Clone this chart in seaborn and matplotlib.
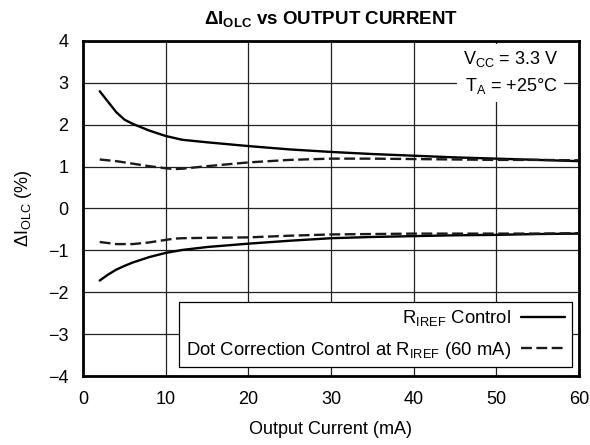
import matplotlib
matplotlib.use("Agg")
import matplotlib.pyplot as plt
import seaborn as sns
import pandas as pd
from matplotlib.lines import Line2D

# Data
iref_x = [2, 3, 4, 5, 6, 8, 10, 12, 15, 20, 25, 30, 35, 40, 45, 50, 55, 60]
iref_upper = [2.80, 2.55, 2.30, 2.12, 2.02, 1.86, 1.73, 1.64, 1.58, 1.49, 1.41, 1.35, 1.30, 1.26, 1.22, 1.19, 1.16, 1.13]
iref_lower = [-1.72, -1.58, -1.46, -1.37, -1.29, -1.16, -1.06, -0.99, -0.92, -0.84, -0.77, -0.71, -0.68, -0.66, -0.64, -0.63, -0.61, -0.60]

dc_x = [2, 4, 6, 8, 10, 11, 12, 15, 20, 25, 30, 35, 40, 45, 50, 55, 60]
dc_upper = [1.17, 1.13, 1.07, 1.01, 0.96, 0.94, 0.95, 1.01, 1.10, 1.16, 1.19, 1.19, 1.18, 1.17, 1.16, 1.16, 1.15]
dc_lower = [-0.80, -0.85, -0.85, -0.81, -0.75, -0.72, -0.71, -0.70, -0.69, -0.65, -0.62, -0.61, -0.60, -0.60, -0.60, -0.60, -0.59]

xticks = [0, 10, 20, 30, 40, 50, 60]
yticks = [-4, -3, -2, -1, 0, 1, 2, 3, 4]
ytick_labels = ["\u22124", "\u22123", "\u22122", "\u22121", "0", "1", "2", "3", "4"]

legend_labels = [r"R$_{\mathregular{IREF}}$ Control",
                 r"Dot Correction Control at R$_{\mathregular{IREF}}$ (60 mA)"]

sns.set_theme(style="white")
plt.rcParams["font.family"] = ["Liberation Sans", "DejaVu Sans"]
plt.rcParams["mathtext.fontset"] = "custom"
plt.rcParams["mathtext.rm"] = "Liberation Sans"
plt.rcParams["mathtext.bf"] = "Liberation Sans:bold"
plt.rcParams["text.color"] = "black"
plt.rcParams["axes.labelcolor"] = "black"
plt.rcParams["xtick.color"] = "black"
plt.rcParams["ytick.color"] = "black"

FS = 13

fig = plt.figure(figsize=(5.9, 4.45), dpi=100)
ax = fig.add_axes([0.141, 0.155, 0.840, 0.753])

lw = 1.7
dash = (4.6, 1.9)
df_iu = pd.DataFrame({"x": iref_x, "y": iref_upper})
df_il = pd.DataFrame({"x": iref_x, "y": iref_lower})
df_du = pd.DataFrame({"x": dc_x, "y": dc_upper})
df_dl = pd.DataFrame({"x": dc_x, "y": dc_lower})

sns.lineplot(data=df_iu, x="x", y="y", ax=ax, color="black", linewidth=lw, zorder=3)
sns.lineplot(data=df_il, x="x", y="y", ax=ax, color="black", linewidth=lw, zorder=3)
sns.lineplot(data=df_du, x="x", y="y", ax=ax, color="#1a1a1a", linewidth=lw, zorder=3)
ax.lines[-1].set_dashes(dash)
sns.lineplot(data=df_dl, x="x", y="y", ax=ax, color="#1a1a1a", linewidth=lw, zorder=3)
ax.lines[-1].set_dashes(dash)

ax.set_xlim(0, 60)
ax.set_ylim(-4, 4)
ax.set_xticks(xticks)
ax.set_yticks(yticks)
ax.set_yticklabels(ytick_labels)
ax.tick_params(axis="both", length=0, labelsize=FS, colors="black", pad=10.5)
ax.grid(True, color="#222222", linewidth=0.9)
ax.set_axisbelow(True)
for s in ax.spines.values():
    s.set_linewidth(2.0)
    s.set_color("black")

ax.set_xlabel("Output Current (mA)", fontsize=FS, labelpad=10, color="black")
ax.set_ylabel(r"$\Delta$I$_{\mathregular{OLC}}$ (%)", fontsize=FS, labelpad=10, color="black")
ax.set_title(r"$\mathbf{\Delta}$I$_{\mathbf{OLC}}$ vs OUTPUT CURRENT", fontsize=13.5,
             fontweight="bold", pad=12, color="black")

ax.text(0.958, 0.975, "V$_{\\mathregular{CC}}$ = 3.3 V\nT$_{\\mathregular{A}}$ = +25\u00b0C",
        transform=ax.transAxes, ha="right", va="top", fontsize=FS, linespacing=1.45,
        color="black", bbox=dict(facecolor="white", edgecolor="none", pad=4), zorder=4)

handles = [Line2D([0], [0], color="black", linewidth=lw),
           Line2D([0], [0], color="#1a1a1a", linewidth=lw, dashes=dash)]
leg = ax.legend(handles, legend_labels, loc="lower right", bbox_to_anchor=(0.986, 0.027),
                borderaxespad=0, markerfirst=False, fancybox=False, framealpha=1,
                edgecolor="black", fontsize=13.3, handlelength=2.4, handletextpad=0.55,
                borderpad=0.35, labelspacing=0.6, labelcolor="black")
leg.get_frame().set_linewidth(0.9)
leg.set_zorder(5)

fig.savefig("out.png", dpi=100)
